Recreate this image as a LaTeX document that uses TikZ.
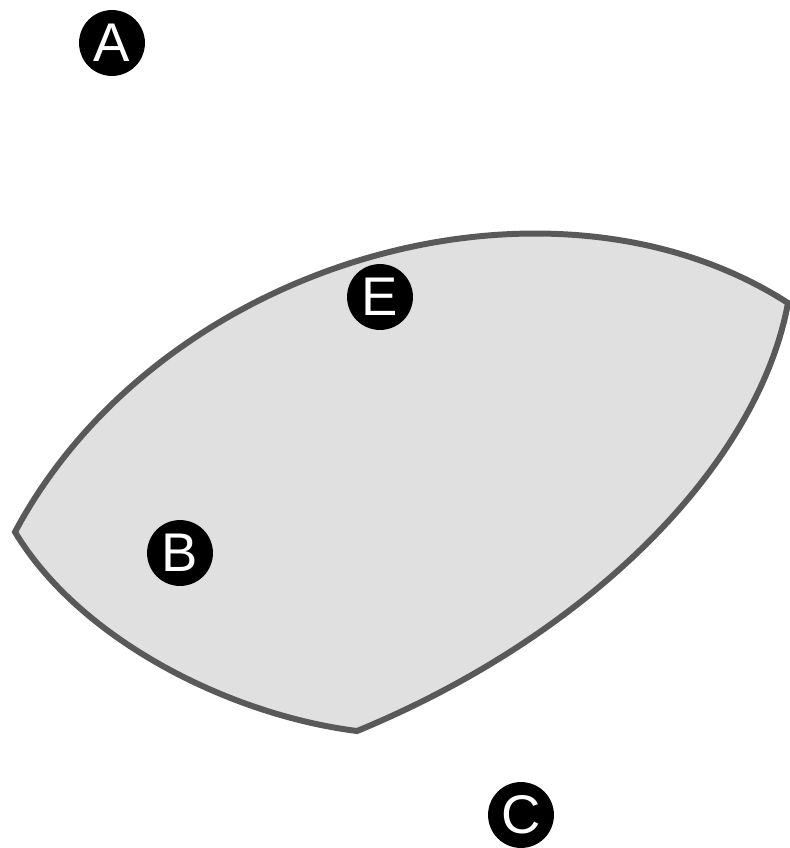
\documentclass[tikz,border=0pt]{standalone}
\usepackage{fontspec}
\setsansfont{Liberation Sans}
\definecolor{edgegray}{HTML}{595959}
\definecolor{fillgray}{HTML}{E0E0E0}
\tikzset{
  marker/.style={circle, fill=black, text=white, minimum size=37.5pt, inner sep=0pt,
    font=\sffamily\fontsize{31}{31}\selectfont},
}
\begin{document}
\begin{tikzpicture}[x=0.02cm, y=-0.02cm]
    \useasboundingbox (0,0) rectangle (790,848);
    \coordinate (left) at (15,532);
    \coordinate (right) at (788,303);
    \coordinate (bottom) at (357,731);
    \filldraw[fill=fillgray, draw=edgegray, line width=3.4pt, line join=miter]
      (left) .. controls (160,260) and (550,150) .. (right)
      .. controls (758,465) and (590,635) .. (bottom)
      .. controls (230,715) and (80,640) .. (left) -- cycle;
    \node[marker] (a) at (112,43) {A};
    \node[marker] (e) at (380,297) {E};
    \node[marker] (b) at (180,553) {B};
    \node[marker] (c) at (521,815) {C};
\end{tikzpicture}
\end{document}
